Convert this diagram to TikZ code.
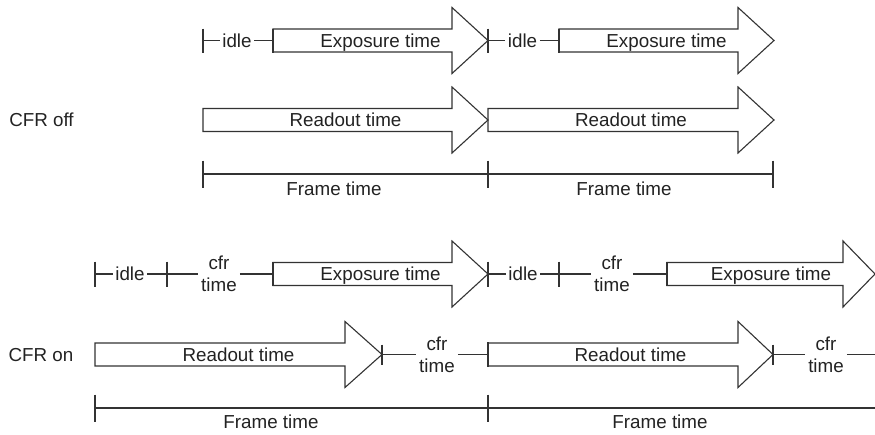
\documentclass[tikz,border=0pt]{standalone}
\usepackage{fontspec}
\setmainfont{Liberation Sans}
\definecolor{ln}{HTML}{333333}
\definecolor{tx}{HTML}{222222}
\tikzset{
  lnstyle/.style={draw=ln, line width=1.1pt},
  arrbox/.style={draw=ln, line width=1.1pt, line join=miter},
  lbl/.style={font=\fontsize{18.8}{22}\selectfont, text=tx, inner sep=2.5pt, text height=13.5pt, text depth=0pt},
  lbltwo/.style={font=\fontsize{18.8}{22}\selectfont, text=tx, inner sep=3pt, align=center},
}
% name, x0, xbase, xtip, yc, label
\newcommand{\tarrow}[6]{%
  \draw[arrbox] (#2,#5-11.5) -- (#3,#5-11.5) -- (#3,#5-33) -- (#4,#5) -- (#3,#5+33) -- (#3,#5+11.5) -- (#2,#5+11.5) -- cycle;
  \coordinate (#1-w) at (#2,#5);
  \coordinate (#1-t) at (#4,#5);
  \node[lbl] (#1) at ({(#2+#4)/2},#5) {#6};
}
% name, x, y, half length
\newcommand{\ticker}[4]{%
  \coordinate (#1) at (#2,#3);
  \draw[lnstyle] (#2,#3-#4) -- (#2,#3+#4);
}
\begin{document}
\begin{tikzpicture}[x=1pt,y=-1pt]
\useasboundingbox (0,0) rectangle (875,434);

% ---------------- CFR off ----------------
\node[lbl] (cfroff) at (41.5,120) {CFR off};

% exposure row
\tarrow{e1}{273}{452}{488}{40.5}{Exposure time}
\tarrow{e2}{559}{738}{774}{40.5}{Exposure time}
\ticker{a1}{203}{40.5}{12}
\ticker{a1b}{273}{40.5}{12}
\ticker{a2}{488}{40.5}{12}
\ticker{a2b}{559}{40.5}{12}
\node[lbl] (idle1) at (237,40.5) {idle};
\node[lbl] (idle2) at (522.5,40.5) {idle};
\draw[lnstyle] (a1) -- (idle1) -- (e1-w);
\draw[lnstyle] (a2) -- (idle2) -- (e2-w);

% readout row
\tarrow{r1}{203}{452}{488}{120}{Readout time}
\tarrow{r2}{488}{738}{774}{120}{Readout time}

% frame row
\ticker{f1}{203}{174}{13.5}
\ticker{f2}{488}{174}{13.5}
\ticker{f3}{773}{174}{13.5}
\draw[lnstyle] (f1) -- (f2) -- (f3);
\node[lbl] (ft1) at (334,188.5) {Frame time};
\node[lbl] (ft2) at (624,188.5) {Frame time};

% ---------------- CFR on ----------------
\node[lbl] (cfron) at (41,355) {CFR on};

% exposure row
\tarrow{e3}{273}{452}{488}{274}{Exposure time}
\tarrow{e4}{667}{843}{875}{274}{Exposure time}
\ticker{b1}{95}{274}{12.5}
\ticker{b2}{167}{274}{12.5}
\ticker{b2b}{273}{274}{12}
\ticker{b3}{488}{274}{12.5}
\ticker{b4}{559}{274}{12.5}
\ticker{b4b}{667}{274}{12}
\node[lbl] (idle3) at (130,274) {idle};
\node[lbl] (idle4) at (523,274) {idle};
\node[lbltwo] (cfr1) at (219,274) {cfr\\time};
\node[lbltwo] (cfr2) at (612,274) {cfr\\time};
\draw[lnstyle] (b1) -- (idle3) -- (b2) -- (cfr1) -- (e3-w);
\draw[lnstyle] (b3) -- (idle4) -- (b4) -- (cfr2) -- (e4-w);

% readout row
\tarrow{r3}{95}{345}{382}{354.5}{Readout time}
\tarrow{r4}{488}{738}{773}{354.5}{Readout time}
\ticker{c1}{382}{354.5}{10}
\ticker{c1b}{488}{354.5}{12.5}
\ticker{c2}{773}{354.5}{10}
\coordinate (cend) at (875,354.5);
\node[lbltwo] (cfr3) at (437,354.5) {cfr\\time};
\node[lbltwo] (cfr4) at (826,354.5) {cfr\\time};
\draw[lnstyle] (c1) -- (cfr3) -- (r4-w);
\draw[lnstyle] (c2) -- (cfr4) -- (cend);

% frame row
\ticker{f4}{95}{408}{13.5}
\ticker{f5}{488}{408}{13.5}
\coordinate (fend) at (875,408);
\draw[lnstyle] (f4) -- (f5) -- (fend);
\node[lbl] (ft3) at (271,421.5) {Frame time};
\node[lbl] (ft4) at (660,421.5) {Frame time};
\end{tikzpicture}
\end{document}
